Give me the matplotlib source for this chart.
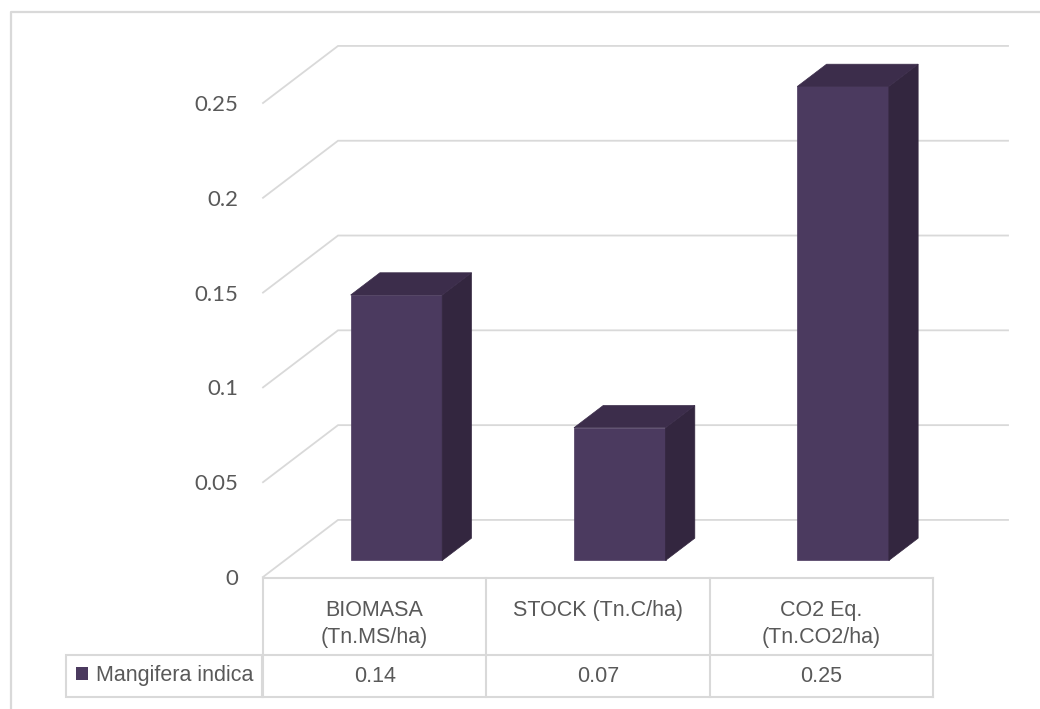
import matplotlib
matplotlib.use("Agg")
import matplotlib.pyplot as plt
import matplotlib.transforms as mtransforms
from matplotlib.patches import Polygon, Rectangle

# dados do gráfico
categorias = ["BIOMASA\n(Tn.MS/ha)", "STOCK (Tn.C/ha)", "CO2 Eq.\n(Tn.CO2/ha)"]
valores = [0.14, 0.07, 0.25]
serie = "Mangifera indica"
ticks = [0, 0.05, 0.1, 0.15, 0.2, 0.25]
tick_labels = ["0", "0.05", "0.1", "0.15", "0.2", "0.25"]

# cores
cor_frente = "#4b3a5f"
cor_topo = "#3c2d4b"
cor_lado = "#33263f"
cor_grade = "#d9d9d9"
cor_texto = "#595959"

# projeção oblíqua (profundidade total da parede em unidades de dados)
DX = 0.336
DY = 0.0301
largura = 0.41
f0, f1 = 0.29, 0.68

W, H = 1040, 709
fig = plt.figure(figsize=(W / 100, H / 100), dpi=100)
fig.patch.set_facecolor("white")

ax = fig.add_axes([263 / W, 132 / H, 670 / W, 474 / H])
ax.set_xlim(-0.5, 2.5)
ax.set_ylim(0, 0.25)
ax.set_facecolor("none")
for s in ax.spines.values():
    s.set_visible(False)
ax.set_xticks([])
ax.set_yticks(ticks)
ax.set_yticklabels(tick_labels, family=["Lato", "DejaVu Sans"])
ax.tick_params(axis="y", length=0, pad=18, labelsize=16, labelcolor=cor_texto)


def proj(x, y, f):
    return (x + f * DX, y + f * DY)


# linhas de grade: diagonal na parede lateral + horizontal na parede do fundo
for v in ticks:
    a = proj(-0.5, v, 0)
    b = proj(-0.5, v, 1)
    c = proj(2.5, v, 1)
    ax.plot([a[0], b[0], c[0]], [a[1], b[1], c[1]], color=cor_grade,
            lw=1.3, clip_on=False, zorder=1, solid_joinstyle="miter")

# barras 3D
for i, v in enumerate(valores):
    x0 = i - largura / 2
    x1 = i + largura / 2
    frente = [proj(x0, 0, f0), proj(x1, 0, f0), proj(x1, v, f0), proj(x0, v, f0)]
    lado = [proj(x1, 0, f0), proj(x1, 0, f1), proj(x1, v, f1), proj(x1, v, f0)]
    topo = [proj(x0, v, f0), proj(x1, v, f0), proj(x1, v, f1), proj(x0, v, f1)]
    for pts, cor in [(frente, cor_frente), (lado, cor_lado), (topo, cor_topo)]:
        ax.add_patch(Polygon(pts, closed=True, facecolor=cor, edgecolor=cor,
                             lw=0.5, clip_on=False, zorder=3))

# tabela de dados abaixo do gráfico
tr = mtransforms.blended_transform_factory(ax.transData, fig.transFigure)
y_topo = 1 - 578 / H
y_meio = 1 - 655 / H
y_base = 1 - 697 / H
fonte_tab = ["Liberation Sans Narrow", "Liberation Sans", "DejaVu Sans"]
tam_tab = 15.5

for y in [y_topo, y_meio, y_base]:
    ax.plot([-0.5, 2.5], [y, y], color=cor_grade, lw=1.5, transform=tr, clip_on=False)
for x in [-0.5, 0.5, 1.5, 2.5]:
    ax.plot([x, x], [y_topo, y_base], color=cor_grade, lw=1.5, transform=tr, clip_on=False)

for i, (cat, v) in enumerate(zip(categorias, valores)):
    ax.text(i, 1 - 600 / H, cat, transform=tr, ha="center", va="top",
            fontsize=tam_tab, color=cor_texto, family=fonte_tab, linespacing=1.4)
    ax.text(i, 1 - 676 / H, f"{v:.2f}", transform=tr, ha="center", va="center",
            fontsize=tam_tab, color=cor_texto, family=fonte_tab)

# célula da legenda
fig.add_artist(Rectangle((66 / W, y_base), (262 - 66) / W, y_meio - y_base,
                         transform=fig.transFigure, facecolor="none",
                         edgecolor=cor_grade, lw=1.5))
fig.add_artist(Rectangle((76 / W, 1 - 680 / H), 12 / W, 13 / H,
                         transform=fig.transFigure, facecolor=cor_frente, lw=0))
fig.text(96 / W, 1 - 676 / H, serie, ha="left", va="center", fontsize=tam_tab,
         color=cor_texto, family=fonte_tab)

# borda da área do gráfico
fig.add_artist(plt.Line2D([11 / W, 11 / W, 1.0], [0.0, 1 - 12 / H, 1 - 12 / H],
                          transform=fig.transFigure, color=cor_grade, lw=1.6))

fig.savefig("out.png", dpi=100)
